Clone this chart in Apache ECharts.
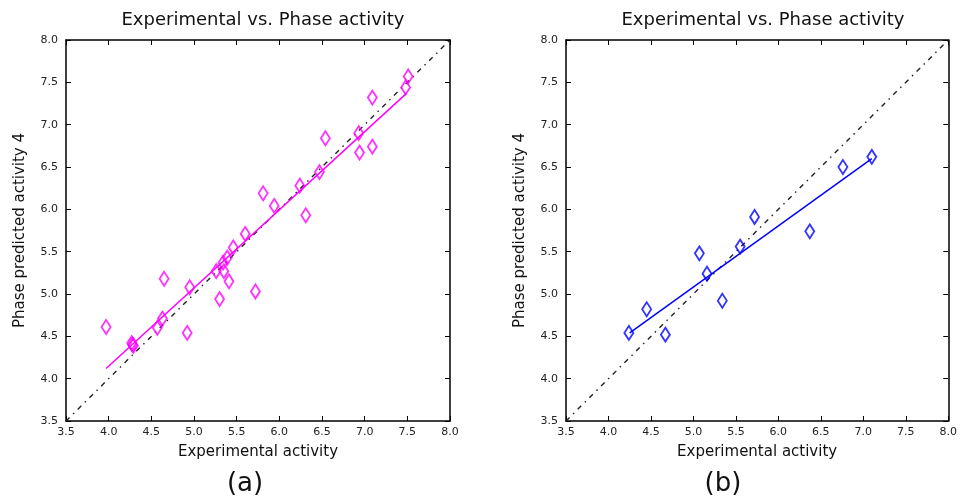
<!DOCTYPE html>
<html>
<head>
<meta charset="utf-8">
<script src="https://cdn.jsdelivr.net/npm/echarts@6/dist/echarts.min.js"></script>
<style>
  html, body { margin: 0; padding: 0; background: #fff; }
  #chart { width: 960px; height: 500px; }
</style>
</head>
<body>
<div id="chart"></div>
<script>
// (a) experimental vs predicted
const pointsA = [
  [7.51, 7.57], [7.48, 7.44], [7.09, 7.32], [6.54, 6.84], [6.93, 6.90],
  [6.94, 6.67], [7.09, 6.74], [6.47, 6.44], [6.24, 6.28], [6.31, 5.93],
  [5.81, 6.19], [5.94, 6.04], [5.60, 5.71], [5.46, 5.55], [5.39, 5.43],
  [5.34, 5.37], [5.26, 5.27], [5.35, 5.27], [5.41, 5.15], [5.30, 4.94],
  [5.72, 5.03], [4.95, 5.08], [4.92, 4.54], [4.65, 5.18], [4.63, 4.71],
  [4.57, 4.60], [4.28, 4.40], [4.27, 4.42], [4.29, 4.39], [3.97, 4.61]
]
const fitA = [[3.97, 4.12], [7.49, 7.37]]

// (b)
const pointsB = [
  [7.10, 6.62], [6.76, 6.50], [5.72, 5.91], [6.37, 5.74], [5.07, 5.48],
  [5.55, 5.56], [5.16, 5.24], [5.34, 4.92], [4.45, 4.82], [4.24, 4.54],
  [4.67, 4.52]
]
const fitB = [[4.25, 4.54], [7.10, 6.60]]

const diagonal = [[3.5, 3.5], [8.0, 8.0]]
const axisMin = 3.5
const axisMax = 8.0
const tickStep = 0.5

const chart = echarts.init(document.getElementById('chart'))

const fontFamily = 'DejaVu Sans'
const grids = [
  { left: 66, right: 510, top: 40, bottom: 79 },
  { left: 566, right: 10, top: 40, bottom: 79 }
]

function makeAxis(kind, gridIndex, position, main) {
  const ax = {
    type: 'value',
    gridIndex: gridIndex,
    position: position,
    min: axisMin,
    max: axisMax,
    interval: tickStep,
    splitLine: { show: false },
    axisLine: { show: true, onZero: false, lineStyle: { color: '#000', width: 1.5 } },
    axisTick: { show: true, inside: true, length: 5, lineStyle: { color: '#000', width: 1 } },
    axisLabel: {
      show: main,
      color: '#222',
      fontSize: 11,
      fontFamily: fontFamily,
      margin: kind === 'x' ? 6 : 8,
      formatter: v => v.toFixed(1)
    }
  }
  if (main) {
    ax.name = kind === 'x' ? 'Experimental activity' : 'Phase predicted activity 4'
    ax.nameLocation = 'middle'
    ax.nameGap = kind === 'x' ? 24 : 38
    ax.nameTextStyle = { color: '#111', fontSize: 15, fontFamily: fontFamily }
  }
  return ax
}

const xAxes = [], yAxes = []
for (let g = 0; g < 2; g++) {
  xAxes.push(makeAxis('x', g, 'bottom', true))
  xAxes.push(makeAxis('x', g, 'top', false))
  yAxes.push(makeAxis('y', g, 'left', true))
  yAxes.push(makeAxis('y', g, 'right', false))
}

function scatter(data, g, color) {
  return {
    type: 'scatter',
    xAxisIndex: g * 2,
    yAxisIndex: g * 2,
    data: data,
    symbol: 'diamond',
    symbolSize: [9, 14],
    itemStyle: { color: 'rgba(255,255,255,0)', borderColor: color, borderWidth: 1.9 },
    z: 5
  }
}

function line(data, g, color, type, width) {
  return {
    type: 'line',
    xAxisIndex: g * 2,
    yAxisIndex: g * 2,
    data: data,
    showSymbol: false,
    symbol: 'none',
    lineStyle: { color: color, width: width, type: type },
    z: 3
  }
}

chart.setOption({
  animation: false,
  textStyle: { fontFamily: fontFamily },
  title: [
    { text: 'Experimental vs. Phase activity', left: 258, top: 6, textAlign: 'center',
      textStyle: { fontSize: 18, fontWeight: 'normal', color: '#111' } },
    { text: 'Experimental vs. Phase activity', left: 758, top: 6, textAlign: 'center',
      textStyle: { fontSize: 18, fontWeight: 'normal', color: '#111' } },
    { text: '(a)', left: 240, top: 466, textAlign: 'center',
      textStyle: { fontSize: 26, fontWeight: 'normal', color: '#111' } },
    { text: '(b)', left: 718, top: 466, textAlign: 'center',
      textStyle: { fontSize: 26, fontWeight: 'normal', color: '#111' } }
  ],
  grid: grids,
  xAxis: xAxes,
  yAxis: yAxes,
  series: [
    line(diagonal, 0, '#222', [5, 5, 1.5, 5], 1.4),
    line(fitA, 0, '#ff00ff', 'solid', 1.5),
    scatter(pointsA, 0, '#ff00ff'),
    line(diagonal, 1, '#222', [5, 5, 1.5, 5], 1.4),
    line(fitB, 1, '#0000ff', 'solid', 1.5),
    scatter(pointsB, 1, '#0000ff')
  ]
})
</script>
</body>
</html>
